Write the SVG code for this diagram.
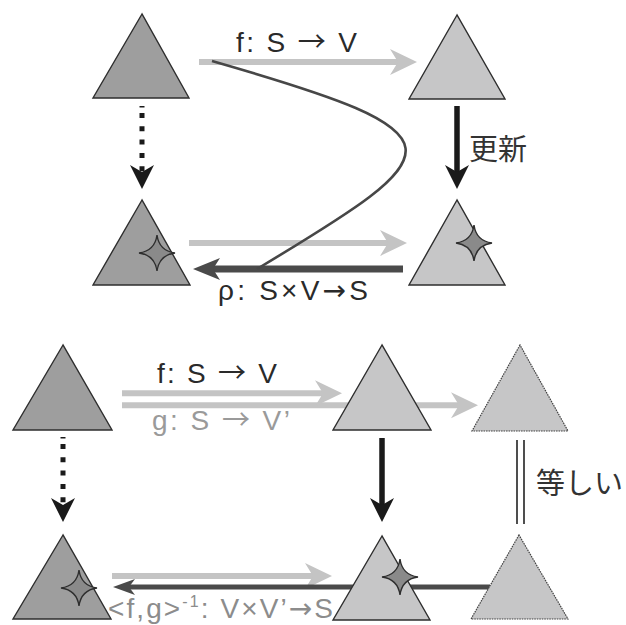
<svg xmlns="http://www.w3.org/2000/svg" width="626" height="625" viewBox="0 0 626 625">
<style>
.tri{stroke:#2e2e2e;stroke-width:1.4;stroke-linejoin:miter}
.dark{fill:#9e9e9e}
.light{fill:#c6c6c7}
.dotted{stroke:#444;stroke-dasharray:1.6 0.9;stroke-width:1.2}
.lgt{stroke:#c4c4c4;stroke-width:6;fill:none}
.blk{stroke:#1a1a1a;stroke-width:5.5;fill:none}
.drk{stroke:#4a4a4a;fill:none}
.lbl{font-family:"Liberation Sans","Noto Sans CJK JP",sans-serif;font-size:28px}
.ar{font-family:"Noto Sans CJK JP",sans-serif}
.ar2{font-family:"DejaVu Sans",sans-serif}
.jp{font-family:"Noto Sans CJK JP",sans-serif;font-size:29px;fill:#333}
.star{fill:#8a8a8a;stroke:#2e2e2e;stroke-width:1.4}
</style>
<defs>
<marker id="hL" markerUnits="userSpaceOnUse" viewBox="-10 -15 32 30" refX="0" refY="0" markerWidth="32" markerHeight="30" orient="auto"><path d="M19,0 L-8,-13 L0,0 L-8,13 Z" fill="#c4c4c4"/></marker>
<marker id="hB" markerUnits="userSpaceOnUse" viewBox="-9 -14 28 28" refX="0" refY="0" markerWidth="28" markerHeight="28" orient="auto"><path d="M17,0 L-7,-12 L0,0 L-7,12 Z" fill="#1a1a1a"/></marker>
<marker id="hD" markerUnits="userSpaceOnUse" viewBox="-9 -13 31 26" refX="0" refY="0" markerWidth="31" markerHeight="26" orient="auto"><path d="M20,0 L-7,-11 L0,0 L-7,11 Z" fill="#4a4a4a"/></marker>
<marker id="hDs" markerUnits="userSpaceOnUse" viewBox="-8 -10 26 20" refX="0" refY="0" markerWidth="26" markerHeight="20" orient="auto"><path d="M16,0 L-6,-8 L0,0 L-6,8 Z" fill="#4a4a4a"/></marker>
<path id="star" d="M0,-18 C1.5,-7 7,-1.5 18,0 C7,1.5 1.5,7 0,18 C-1.5,7 -7,1.5 -18,0 C-7,-1.5 -1.5,-7 0,-18 Z"/>
</defs>

<g id="connectors">
  <!-- top diagram -->
  <line class="lgt" x1="199" y1="62" x2="398" y2="62" marker-end="url(#hL)"/>
  <line class="lgt" x1="189" y1="243" x2="388" y2="243" marker-end="url(#hL)"/>
  <line class="drk" stroke-width="7" x1="403" y1="269" x2="213" y2="269" marker-end="url(#hD)"/>
  <line stroke="#1a1a1a" stroke-width="5" stroke-dasharray="1.5 5.5 5 8.3 5 8.3 5 8.3 5 8.3 5 8.3" x1="142" y1="106" x2="142" y2="172" marker-end="url(#hB)"/>
  <line class="blk" x1="457" y1="106" x2="457" y2="172" marker-end="url(#hB)"/>
  <path d="M212,61 C470,135 455,150 257,269" fill="none" stroke="#474747" stroke-width="2.6"/>
  <!-- bottom diagram -->
  <line class="lgt" x1="122" y1="405.3" x2="459" y2="405.3" marker-end="url(#hL)"/>
  <line class="lgt" x1="122" y1="393.3" x2="323" y2="393.3" marker-end="url(#hL)"/>
  <line stroke="#1a1a1a" stroke-width="5" stroke-dasharray="1.5 5.5 5 8.3 5 8.3 5 8.3 5 8.3 5 8.3" x1="63" y1="437" x2="63" y2="505" marker-end="url(#hB)"/>
  <line class="blk" x1="382" y1="438" x2="382" y2="505" marker-end="url(#hB)"/>
  <line x1="517" y1="440" x2="517" y2="524" stroke="#222" stroke-width="1.6"/>
  <line x1="524" y1="440" x2="524" y2="524" stroke="#222" stroke-width="1.6"/>
  <line class="lgt" x1="112" y1="576" x2="313" y2="576" marker-end="url(#hL)"/>
  <line class="drk" stroke-width="5" x1="490" y1="587" x2="129" y2="587" marker-end="url(#hDs)"/>
</g>

<g id="labels">
  <text class="lbl" x="236" y="52" fill="#2a2a2a" textLength="121" lengthAdjust="spacing">f: S <tspan class="ar">→</tspan> V</text>
  <text class="jp" x="469" y="160">更新</text>
  <text class="lbl" x="218" y="300" fill="#2a2a2a" textLength="150" lengthAdjust="spacing">ρ: S×V<tspan class="ar2">→</tspan>S</text>
  <text class="lbl" x="157" y="383" fill="#2a2a2a" textLength="120" lengthAdjust="spacing">f: S <tspan class="ar">→</tspan> V</text>
  <text class="lbl" x="152" y="430" fill="#9a9a9a" textLength="138" lengthAdjust="spacing">g: S <tspan class="ar">→</tspan> V’</text>
  <text class="jp" x="536" y="494">等しい</text>
  <text class="lbl" x="108" y="618" fill="#8c8c8c" font-size="27" textLength="225" lengthAdjust="spacing">&lt;f,g&gt;<tspan font-size="16" dy="-11">-1</tspan><tspan dy="11">: V×V’</tspan><tspan class="ar2">→</tspan>S</text>
</g>

<g id="top-s">
  <polygon class="tri dark" points="142,14 93,98 189,98"/>
</g>
<g id="top-v">
  <polygon class="tri light" points="457,15 409,99 505,99"/>
</g>
<g id="top-s-updated">
  <polygon class="tri dark" points="142,200 93,285 190,285"/>
  <use href="#star" class="star" x="157" y="253"/>
</g>
<g id="top-v-updated">
  <polygon class="tri light" points="457,200 409,285 505,285"/>
  <use href="#star" class="star" x="474" y="243"/>
</g>

<g id="bot-s">
  <polygon class="tri dark" points="63,345 13,430 112,430"/>
</g>
<g id="bot-v">
  <polygon class="tri light" points="382,345 333,430 431,430"/>
</g>
<g id="bot-v2">
  <polygon class="light dotted" points="520,345 472,431 568,431"/>
</g>
<g id="bot-s-updated">
  <polygon class="tri dark" points="63,535 13,619 111,619"/>
  <use href="#star" class="star" x="79" y="588"/>
</g>
<g id="bot-v-updated">
  <polygon class="tri light" points="382,536 333,620 430,620"/>
  <use href="#star" class="star" x="400" y="577"/>
</g>
<g id="bot-v2-same">
  <polygon class="light dotted" points="519,535 471,619 568,619"/>
</g>
</svg>
